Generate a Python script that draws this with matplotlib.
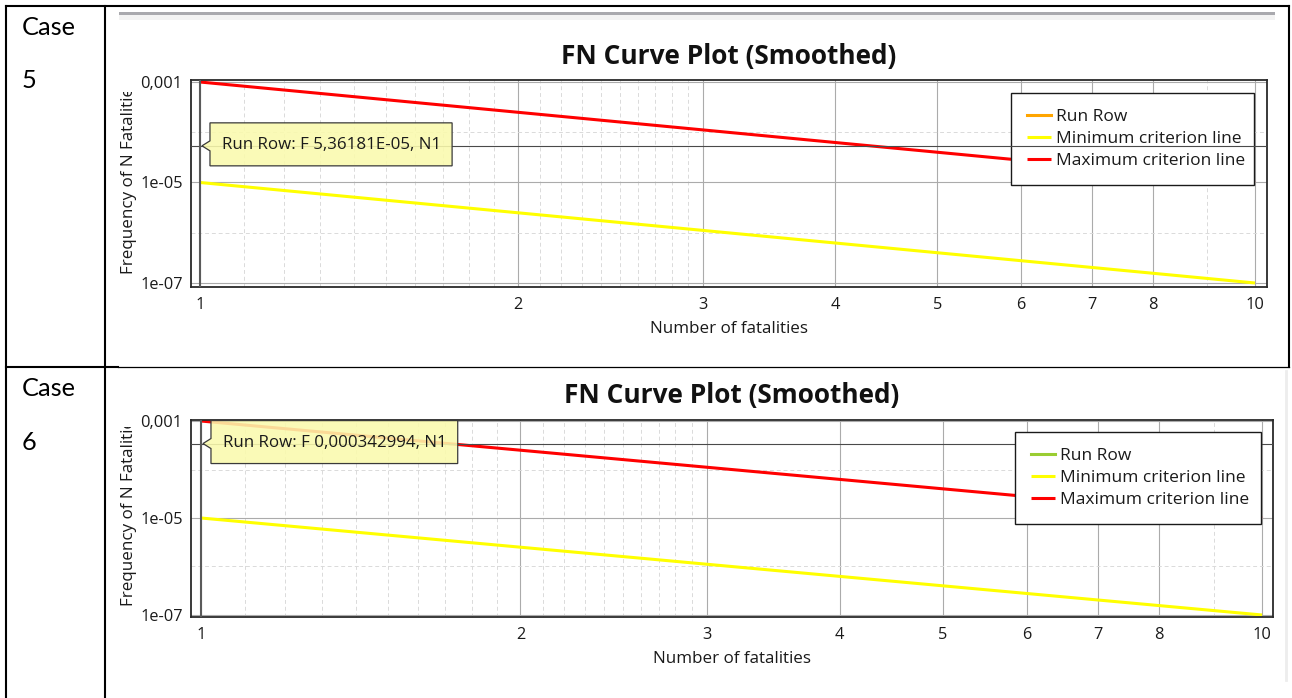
import matplotlib
matplotlib.use("Agg")
import matplotlib.pyplot as plt
from matplotlib.patches import Polygon, Rectangle
from matplotlib.ticker import NullFormatter
from matplotlib.transforms import Bbox

W, H, DPI = 1292, 698, 100
UI_FONT = ["Open Sans", "DejaVu Sans"]
DOC_FONT = ["Lato", "DejaVu Sans"]
plt.rcParams["font.family"] = UI_FONT

# ---- chart data ----
fatalities = [1, 10]
max_criterion = [1e-3, 1e-5]
min_criterion = [1e-5, 1e-7]

case_labels = ["5", "6"]
run_row_n = [1, 1]
run_row_f = [5.36181e-05, 0.000342994]
run_row_tooltips = ["Run Row: F 5,36181E-05, N1", "Run Row: F 0,000342994, N1"]
run_row_colors = ["#FFA500", "#9ACD32"]

series_labels = ["Run Row", "Minimum criterion line", "Maximum criterion line"]
chart_title = "FN Curve Plot (Smoothed)"
x_label = "Number of fatalities"
y_label = "Frequency of N Fatalities"

x_ticks = [1, 2, 3, 4, 5, 6, 7, 8, 10]
x_tick_labels = ["1", "2", "3", "4", "5", "6", "7", "8", "10"]
x_minor_grid = [1.1, 1.2, 1.3, 1.4, 1.5, 1.6, 1.7, 1.8, 1.9,
                2.1, 2.2, 2.3, 2.4, 2.5, 2.6, 2.7, 2.8, 2.9, 9]
y_ticks = [1e-7, 1e-5, 1e-3]
y_tick_labels = ["1e-07", "1e-05", "0,001"]
y_minor_grid = [1e-6, 1e-4]

# ---- page layout (pixels from the top-left corner) ----
panels = [
    dict(plot=(191, 80, 1267, 287), xlim=(0.9806, 10.265), ylim=(8.32e-8, 1.096e-3),
         title_base=64, ylabel_bottom=274, ylabel_clip=92, legend=(1011, 93, 1254),
         case_base=(35, 88), cross_over_legend=True),
    dict(plot=(191, 420, 1273, 617), xlim=(0.9786, 10.24), ylim=(9.09e-8, 1.049e-3),
         title_base=403, ylabel_bottom=606, ylabel_clip=427, legend=(1015, 432, 1261),
         case_base=(396, 450), cross_over_legend=False),
]

fig = plt.figure(figsize=(W / DPI, H / DPI), dpi=DPI)
fig.patch.set_facecolor("white")
renderer = fig.canvas.get_renderer()


def fig_rect(l, t, r, b):
    return [l / W, 1 - b / H, (r - l) / W, (b - t) / H]


def text_extent(s, size, family=UI_FONT, weight="normal"):
    t = fig.text(0, 0, s, fontsize=size, family=family, weight=weight)
    bb = t.get_window_extent(renderer=renderer)
    t.remove()
    return bb.width, bb.height


def fitted_size(s, width_px, family=UI_FONT, weight="normal", ref=10.0):
    w, _ = text_extent(s, ref, family, weight)
    return ref * width_px / w


title_fs = fitted_size(chart_title, 336, weight="bold")
label_fs = fitted_size(x_label, 159)
tick_fs = fitted_size("0,001", 42)
legend_fs = fitted_size(series_labels[2], 189)
tip_fs = fitted_size(run_row_tooltips[0], 219)
case_fs = fitted_size("Case", 54, DOC_FONT)

# background and foreground layers in pixel coordinates
bg = fig.add_axes([0, 0, 1, 1], zorder=0)
fg = fig.add_axes([0, 0, 1, 1], zorder=10)
for o in (bg, fg):
    o.set_xlim(0, W)
    o.set_ylim(H, 0)
    o.axis("off")

# table grid
rule = dict(color="black", lw=1.5, solid_capstyle="projecting", clip_on=False)
bg.plot([6, 1289], [6, 6], **rule)
bg.plot([6, 6], [6, H + 2], **rule)
bg.plot([105, 105], [6, H + 2], **rule)
bg.plot([1289, 1289], [6, 367], **rule)
bg.plot([6, 118], [367, 367], **rule)
bg.plot([118, 1289], [367, 367], color="black", lw=0.9, clip_on=False)
bg.plot([1286, 1286], [371, 680], color="#EDEDED", lw=2, clip_on=False)

# window header strip above the first chart
bg.add_patch(Rectangle((119, 12), 1156, 3, color="#A9A9AE", lw=0))
bg.add_patch(Rectangle((119, 15), 1156, 5, color="#F3F3F3", lw=0))

for i, p in enumerate(panels):
    bg.text(22, p["case_base"][0], "Case", family=DOC_FONT, fontsize=case_fs,
            va="baseline", ha="left", color="black")
    bg.text(22, p["case_base"][1], case_labels[i], family=DOC_FONT, fontsize=case_fs,
            va="baseline", ha="left", color="black")

    l, t, r, b = p["plot"]
    ax = fig.add_axes(fig_rect(l, t, r, b), zorder=5)
    ax.set_xscale("log")
    ax.set_yscale("log")
    ax.set_axisbelow(True)

    ax.plot(run_row_n[i:i + 1], run_row_f[i:i + 1], color=run_row_colors[i], lw=2.2,
            label=series_labels[0])
    ax.plot(fatalities, min_criterion, color="#FFFF00", lw=2.2, label=series_labels[1],
            solid_capstyle="butt")
    ax.plot(fatalities, max_criterion, color="#FF0000", lw=2.2, label=series_labels[2],
            solid_capstyle="butt")
    ax.set_xlim(*p["xlim"])
    ax.set_ylim(*p["ylim"])

    ax.set_xticks(x_ticks, x_tick_labels)
    ax.set_xticks(x_minor_grid, minor=True)
    ax.xaxis.set_minor_formatter(NullFormatter())
    ax.set_yticks(y_ticks, y_tick_labels)
    ax.set_yticks(y_minor_grid, minor=True)
    ax.yaxis.set_minor_formatter(NullFormatter())
    ax.tick_params(which="both", length=0, labelsize=tick_fs, colors="#1A1A1A")
    ax.tick_params(axis="x", pad=7.5)
    ax.tick_params(axis="y", pad=6)

    ax.grid(True, which="major", color="#ABABAB", lw=0.8, ls="-")
    ax.grid(True, which="minor", color="#DADADA", lw=0.7, ls=(0, (4, 3)))
    for s in ax.spines.values():
        s.set_color("#2A2A2A")
        s.set_linewidth(1.3)

    # title and axis labels
    ax.set_title(chart_title, fontsize=title_fs, fontweight="bold", pad=0,
                 y=(b - p["title_base"]) / (b - t), va="baseline", color="#111111")
    ax.set_xlabel(x_label, fontsize=label_fs, color="#1A1A1A")
    ax.xaxis.set_label_coords((l + r) / 2, b + 46, transform=bg.transData)
    ax.xaxis.label.set_va("baseline")

    ax.set_ylabel(y_label, fontsize=label_fs, color="#1A1A1A")
    ax.yaxis.set_label_coords(129, p["ylabel_bottom"], transform=bg.transData)
    ylab = ax.yaxis.label
    ylab.set_rotation_mode("default")
    ylab.set_ha("center")
    ylab.set_va("bottom")
    ylab.set_clip_box(Bbox.from_extents(0, 0, W, H - p["ylabel_clip"]))
    ylab.set_clip_on(True)

    # crosshair on the selected run row point
    cz = 6 if p["cross_over_legend"] else 4
    ax.axhline(run_row_f[i], color="#4A4A4A", lw=0.8, zorder=cz)
    ax.axvline(run_row_n[i], color="#5A5A5A", lw=1.5, zorder=cz)

    # legend
    fs_px = legend_fs * DPI / 72
    _, row_h = text_extent(series_labels[2], legend_fs)
    ll, lt, lr = p["legend"]
    leg = ax.legend(loc="upper left",
                    bbox_to_anchor=(ll / W, 1 - lt / H, (lr - ll) / W, 0.0),
                    bbox_transform=fig.transFigure, mode="expand", borderaxespad=0,
                    prop={"family": UI_FONT, "size": legend_fs},
                    frameon=True, fancybox=False, shadow=False, framealpha=1,
                    edgecolor="#1A1A1A", facecolor="white",
                    borderpad=(23.5 - row_h / 2) / fs_px,
                    labelspacing=(22 - row_h) / fs_px,
                    handlelength=24 / fs_px, handletextpad=6 / fs_px)
    leg.get_frame().set_linewidth(1.0)
    for txt in leg.get_texts():
        txt.set_color("#1A1A1A")

    # tooltip pointing at the run row value
    tip_x, tip_y = bg.transData.inverted().transform(
        ax.transData.transform((run_row_n[i], run_row_f[i])))
    tw, _ = text_extent(run_row_tooltips[i], tip_fs)
    bl = tip_x + 10
    bt, bb = tip_y - 23, tip_y + 20
    tx = bl + 12
    br = tx + tw + 11
    outline = [(bl, bt), (br, bt), (br, bb), (bl, bb), (bl, tip_y + 5),
               (tip_x + 2, tip_y), (bl, tip_y - 5)]
    fg.add_patch(Polygon(outline, closed=True, facecolor=(0.98, 0.98, 0.68, 0.88),
                         edgecolor="#3A3A3A", lw=0.9))
    fg.text(tx, tip_y - 1, run_row_tooltips[i], fontsize=tip_fs, va="center",
            ha="left", color="#1A1A1A")

fig.savefig("out.png", dpi=DPI, facecolor="white")
